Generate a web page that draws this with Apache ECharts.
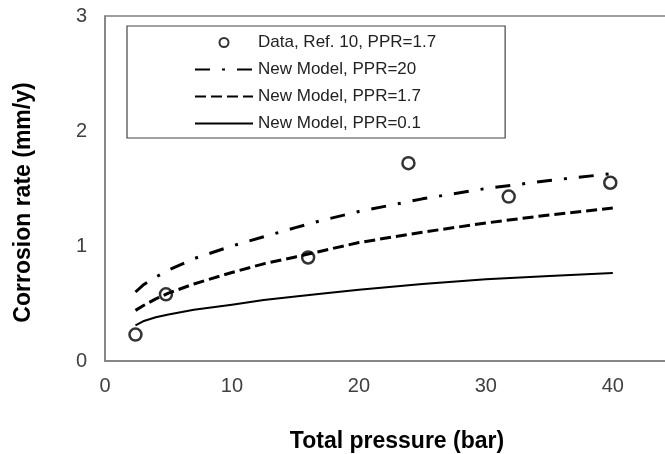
<!DOCTYPE html>
<html>
<head>
<meta charset="utf-8">
<script src="https://cdn.jsdelivr.net/npm/echarts@6/dist/echarts.min.js"></script>
<style>
  html, body { margin: 0; padding: 0; background: #fff; }
  #chart { width: 665px; height: 454px; }
</style>
</head>
<body>
<div id="chart"></div>
<script>
// Measured corrosion rates (Ref. 10, PPR = 1.7)
const dataPressure = [2.4, 4.8, 16.0, 23.9, 31.8, 39.8];
const dataRate = [0.23, 0.58, 0.90, 1.72, 1.43, 1.55];

// Model predictions versus total pressure
const modelPressure = [2.4, 3, 4, 5, 7, 10, 12.5, 15, 17, 20, 25, 30, 35, 40];
const ratePPR20 = [0.60, 0.66, 0.73, 0.79, 0.89, 1.00, 1.08, 1.16, 1.22, 1.30, 1.41, 1.50, 1.57, 1.63];
const ratePPR17 = [0.44, 0.48, 0.54, 0.59, 0.67, 0.77, 0.845, 0.905, 0.955, 1.03, 1.12, 1.20, 1.27, 1.33];
const ratePPR01 = [0.31, 0.345, 0.38, 0.405, 0.445, 0.49, 0.53, 0.56, 0.585, 0.62, 0.67, 0.71, 0.74, 0.765];

const seriesNames = [
  'Data, Ref. 10, PPR=1.7',
  'New Model, PPR=20',
  'New Model, PPR=1.7',
  'New Model, PPR=0.1'
];

const xTicks = [0, 10, 20, 30, 40];
const yTicks = [0, 1, 2, 3];

const pairs = (xs, ys) => xs.map((x, i) => [x, ys[i]]);

const FONT = '"Liberation Sans", Arial, sans-serif';

const chart = echarts.init(document.getElementById('chart'), null, { renderer: 'canvas' });

const lineSeries = (name, ys, width, type) => ({
  name: name,
  type: 'line',
  data: pairs(modelPressure, ys),
  showSymbol: false,
  symbol: 'none',
  smooth: false,
  lineStyle: { color: '#000', width: width, type: type, join: 'round' },
  itemStyle: { color: '#000' },
  z: 2
});

// legend entries for the model curves show only the line sample
const hiddenMarker = { color: 'rgba(0,0,0,0)', borderWidth: 0, opacity: 0 };

chart.setOption({
  animation: false,
  backgroundColor: '#fff',
  grid: {
    left: 105,
    top: 16,
    width: 584,
    height: 345,
    outerBoundsMode: 'none',
    show: true,
    borderColor: '#7f7f7f',
    borderWidth: 1.5,
    backgroundColor: 'transparent'
  },
  legend: {
    orient: 'vertical',
    left: 127,
    top: 26,
    data: [
      { name: seriesNames[0] },
      { name: seriesNames[1], itemStyle: hiddenMarker },
      { name: seriesNames[2], itemStyle: hiddenMarker },
      { name: seriesNames[3], itemStyle: hiddenMarker }
    ],
    itemWidth: 58,
    itemHeight: 9,
    itemGap: 10,
    padding: [8, 69, 6, 67],
    borderColor: '#444',
    borderWidth: 1.2,
    textStyle: { fontFamily: FONT, fontSize: 17, color: '#222' }
  },
  xAxis: {
    type: 'value',
    min: 0,
    max: 46,
    interval: 10,
    name: 'Total pressure (bar)',
    nameLocation: 'middle',
    nameGap: 69,
    nameTextStyle: { fontFamily: FONT, fontSize: 23, fontWeight: 'bold', color: '#000' },
    axisLine: { show: true, lineStyle: { color: '#7f7f7f', width: 1.5 } },
    axisTick: { show: false },
    splitLine: { show: false },
    axisLabel: {
      fontFamily: FONT,
      fontSize: 20,
      color: '#404040',
      margin: 15,
      showMaxLabel: false,
      formatter: v => (xTicks.includes(v) ? String(v) : '')
    }
  },
  yAxis: {
    type: 'value',
    min: 0,
    max: 3,
    interval: 1,
    name: 'Corrosion rate (mm/y)',
    nameLocation: 'middle',
    nameGap: 70,
    nameTextStyle: {
      fontFamily: FONT,
      fontSize: 23,
      fontWeight: 'bold',
      color: '#000',
      padding: [0, 28, 0, 0]
    },
    axisLine: { show: true, lineStyle: { color: '#7f7f7f', width: 1.5 } },
    axisTick: { show: false },
    splitLine: { show: false },
    axisLabel: {
      fontFamily: FONT,
      fontSize: 20,
      color: '#404040',
      margin: 18,
      formatter: v => (yTicks.includes(v) ? String(v) : '')
    }
  },
  series: [
    {
      name: seriesNames[0],
      type: 'scatter',
      data: pairs(dataPressure, dataRate),
      symbol: 'circle',
      symbolSize: 12,
      itemStyle: { color: 'rgba(255,255,255,0)', borderColor: '#000', borderWidth: 2.5 },
      z: 3
    },
    lineSeries(seriesNames[1], ratePPR20, 3, [15, 12, 3, 12]),
    lineSeries(seriesNames[2], ratePPR17, 3, [11, 5]),
    lineSeries(seriesNames[3], ratePPR01, 2)
  ]
});
</script>
</body>
</html>
